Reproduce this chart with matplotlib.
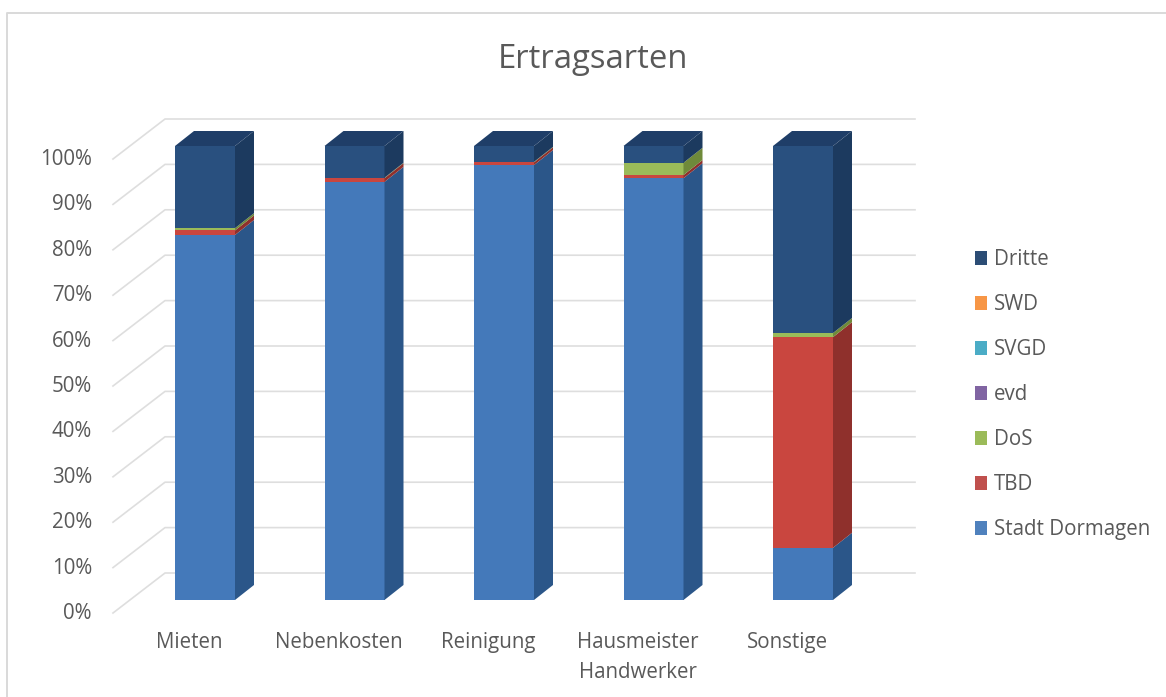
import matplotlib
matplotlib.use("Agg")
import matplotlib.pyplot as plt
import numpy as np
from matplotlib.patches import Polygon

plt.rcParams['font.family'] = ['Open Sans', 'DejaVu Sans']

categories = ['Mieten', 'Nebenkosten', 'Reinigung', 'Hausmeister\nHandwerker', 'Sonstige']
series_names = ['Stadt Dormagen', 'TBD', 'DoS', 'evd', 'SVGD', 'SWD', 'Dritte']
stadt = [80.4, 92.1, 95.8, 92.9, 11.5]
tbd = [1.0, 0.8, 0.6, 0.7, 46.4]
dos = [0.5, 0.1, 0.1, 2.7, 0.9]
evd = [0, 0, 0, 0, 0]
svgd = [0, 0, 0, 0, 0]
swd = [0, 0, 0, 0, 0]
dritte = [18.1, 7.0, 3.5, 3.7, 41.2]
series = [stadt, tbd, dos, evd, svgd, swd, dritte]
y_ticks = [0, 10, 20, 30, 40, 50, 60, 70, 80, 90, 100]

front_colors = ['#4479ba', '#c9463f', '#9bbb59', '#8064a2', '#4bacc6', '#f79646', '#29507f']
side_colors = ['#2b5689', '#8f302c', '#6f8a3a', '#5a4676', '#33798c', '#b06a30', '#1c3a5f']
top_colors = ['#2b5689', '#8f302c', '#6f8a3a', '#5a4676', '#33798c', '#b06a30', '#1f3e68']
legend_colors = ['#4f81bd', '#c0504d', '#9bbb59', '#8064a2', '#4bacc6', '#f79646', '#2c4d75']
text_color = '#595959'
grid_color = '#dedede'

# pixel scales of the picture, everything below is in data units
px_x = 149.5
px_y = 4.54
bar_w = 60 / px_x
depth_x = 19 / px_x
depth_y = 15 / px_y
wall_left = (165 - 205) / px_x
wall_right = (915 - 205) / px_x
wall_dy = 27 / px_y
floor_dx = -52 / px_x
floor_dy = -40 / px_y

fig = plt.figure(figsize=(11.66, 6.97), dpi=100)
ax = fig.add_axes([0, 0, 1, 1])
ax.set_xlim(-205 / px_x, (1166 - 205) / px_x)
ax.set_ylim(-97 / px_y, 600 / px_y)
ax.axis('off')

# frame around the chart, open at the right and bottom
fig.add_artist(plt.Line2D([6.5 / 1166, 6.5 / 1166, 1], [0, 1 - 12.5 / 697, 1 - 12.5 / 697], color='#d9d9d9', lw=1.4))

# gridlines on back wall and side wall
for t in y_ticks:
    yw = t + wall_dy
    ax.plot([wall_left + floor_dx, wall_left, wall_right], [yw + floor_dy, yw, yw], color=grid_color, lw=1.2, zorder=1)
    ax.text((92 - 205) / px_x, t - 13.5 / px_y, f'{t}%', ha='right', va='center', fontsize=14.8, color=text_color)

# bars: front, side and top faces per segment
x = np.arange(len(categories))
bottoms = np.zeros(len(categories))
for vals, fc, sc, tc in zip(series, front_colors, side_colors, top_colors):
    vals = np.array(vals, dtype=float)
    ax.bar(x, vals, bottom=bottoms, width=bar_w, color=fc, lw=0, zorder=3)
    for i in x:
        if vals[i] <= 0:
            continue
        right = i + bar_w / 2
        b = bottoms[i]
        t = b + vals[i]
        ax.add_patch(Polygon([(right, b), (right + depth_x, b + depth_y), (right + depth_x, t + depth_y), (right, t)], fc=sc, lw=0, zorder=3))
    bottoms = bottoms + vals

for i in x:
    left = i - bar_w / 2
    right = i + bar_w / 2
    ax.add_patch(Polygon([(left, 100), (right, 100), (right + depth_x, 100 + depth_y), (left + depth_x, 100 + depth_y)], fc=top_colors[-1], lw=0, zorder=3))

# category labels
for i, c in enumerate(categories):
    ax.text(i - 15.5 / px_x, -32 / px_y, c, ha='center', va='top', fontsize=14.8, color=text_color, linespacing=1.55)

ax.text((593 - 205) / px_x, (600 - 60) / px_y, 'Ertragsarten', ha='center', va='center', fontsize=23.7, color=text_color)

# legend built by hand, top entry is the last series
leg_y = [258, 303, 348, 393, 438, 483, 528]
for name, col, ly in zip(series_names[::-1], legend_colors[::-1], leg_y):
    yy = (600 - ly) / px_y
    ax.add_patch(Polygon([((975 - 205) / px_x, yy - 6.5 / px_y), ((987 - 205) / px_x, yy - 6.5 / px_y),
                          ((987 - 205) / px_x, yy + 7 / px_y), ((975 - 205) / px_x, yy + 7 / px_y)], fc=col, lw=0))
    ax.text((994 - 205) / px_x, yy - 1.5 / px_y, name, ha='left', va='center', fontsize=14.8, color=text_color)

fig.savefig('out.png', dpi=100)
